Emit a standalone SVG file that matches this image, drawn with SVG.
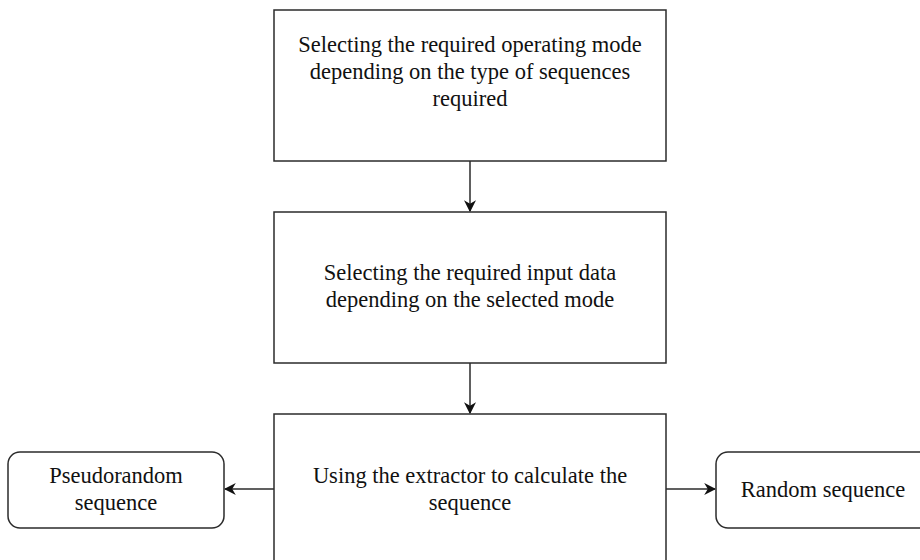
<svg xmlns="http://www.w3.org/2000/svg" width="920" height="560" viewBox="0 0 920 560">
  <style>
    .box { fill: #ffffff; stroke: #2b2b2b; stroke-width: 1.5; }
    .lbl { font-family: "Liberation Serif", "Times New Roman", serif; font-size: 22.5px; fill: #111111; text-anchor: middle; }
    .edge { fill: none; stroke: #2b2b2b; stroke-width: 1.5; }
  </style>
  <defs>
    <marker id="arrow" viewBox="0 0 10 10" refX="9" refY="5" markerWidth="12" markerHeight="12" markerUnits="userSpaceOnUse" orient="auto">
      <path d="M0,0 L10,5 L0,10 L3,5 Z" fill="#111111"/>
    </marker>
  </defs>
  <rect width="920" height="560" fill="#ffffff"/>

  <g id="connectors">
    <line class="edge" x1="470" y1="161" x2="470" y2="211" marker-end="url(#arrow)"/>
    <line class="edge" x1="470" y1="363" x2="470" y2="413" marker-end="url(#arrow)"/>
    <line class="edge" x1="274" y1="489" x2="225" y2="489" marker-end="url(#arrow)"/>
    <line class="edge" x1="666" y1="489" x2="715" y2="489" marker-end="url(#arrow)"/>
  </g>

  <g id="select-mode">
    <rect class="box" x="274" y="10" width="392" height="151"/>
    <text class="lbl" x="470" y="52">Selecting the required operating mode</text>
    <text class="lbl" x="470" y="79">depending on the type of sequences</text>
    <text class="lbl" x="470" y="106">required</text>
  </g>

  <g id="select-input">
    <rect class="box" x="274" y="212" width="392" height="151"/>
    <text class="lbl" x="470" y="280">Selecting the required input data</text>
    <text class="lbl" x="470" y="307">depending on the selected mode</text>
  </g>

  <g id="extractor">
    <rect class="box" x="274" y="414" width="392" height="160"/>
    <text class="lbl" x="470" y="483">Using the extractor to calculate the</text>
    <text class="lbl" x="470" y="510">sequence</text>
  </g>

  <g id="pseudorandom">
    <rect class="box" x="8" y="452" width="216" height="76" rx="12" ry="12"/>
    <text class="lbl" x="116" y="483">Pseudorandom</text>
    <text class="lbl" x="116" y="510">sequence</text>
  </g>

  <g id="random">
    <rect class="box" x="716" y="452" width="220" height="76" rx="12" ry="12"/>
    <text class="lbl" x="823" y="497">Random sequence</text>
  </g>
</svg>
